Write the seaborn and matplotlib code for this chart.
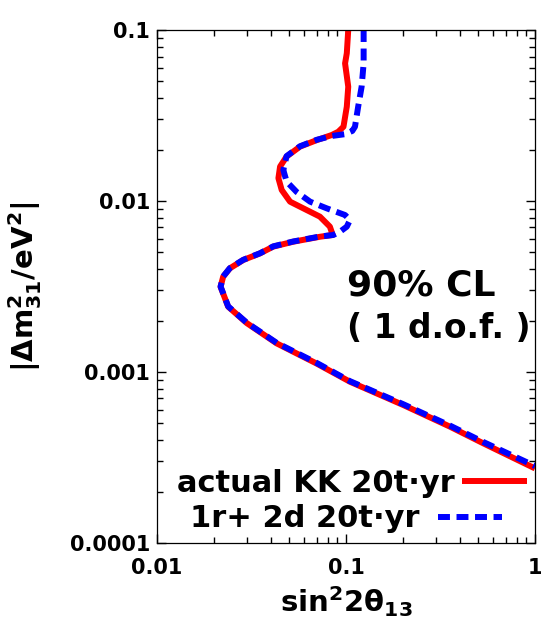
import numpy as np
import pandas as pd
import seaborn as sns
import matplotlib
matplotlib.use("Agg")
import matplotlib.pyplot as plt
from matplotlib.ticker import LogLocator, NullFormatter

# 90% CL contours (sin^2 2theta13, |dm31^2| in eV^2)
red_s = [0.1028, 0.101, 0.0989, 0.1028, 0.101, 0.097, 0.0910, 0.0839,
         0.0700, 0.0571, 0.0485, 0.0448, 0.0439, 0.0457, 0.0506, 0.0619, 0.0728,
         0.0822, 0.0851, 0.0728, 0.0526, 0.0412, 0.0351, 0.0286, 0.0243, 0.0224,
         0.0217, 0.0238, 0.0299, 0.0430, 0.0700, 0.105, 0.201, 0.355, 0.532, 1.0]
red_dm = [0.1, 0.0731, 0.0638, 0.0466, 0.0356, 0.0272, 0.0254, 0.0243,
          0.0227, 0.0208, 0.0182, 0.0159, 0.0136, 0.0116, 0.00991, 0.00886, 0.00810,
          0.00708, 0.00633, 0.00618, 0.00578, 0.00541, 0.00494, 0.00452, 0.00404, 0.00361,
          0.00315, 0.00241, 0.00193, 0.00147, 0.00112, 0.000877, 0.000641, 0.000479, 0.000383, 0.000273]

blue_s = [0.124, 0.124, 0.121, 0.116, 0.1116, 0.108, 0.0989, 0.0839, 0.0700,
          0.0571, 0.0485, 0.0466, 0.0485, 0.0548, 0.0646, 0.0791, 0.0989, 0.105,
          0.101, 0.0929, 0.0857, 0.0728, 0.0526, 0.0412, 0.0351, 0.0286, 0.0243,
          0.0224, 0.0217, 0.0238, 0.0299, 0.0430, 0.0700, 0.105, 0.201, 0.355, 0.532, 1.0]
blue_dm = [0.1, 0.0638, 0.0466, 0.0356, 0.0272, 0.0257, 0.0246, 0.0240, 0.0228,
           0.0209, 0.0183, 0.0152, 0.0130, 0.0113, 0.00991, 0.00906, 0.00828, 0.00774,
           0.00708, 0.00661, 0.00633, 0.00620, 0.00580, 0.00543, 0.00495, 0.00453, 0.00405,
           0.00362, 0.00316, 0.00242, 0.00194, 0.00148, 0.00113, 0.000884, 0.000648, 0.000486, 0.000390, 0.000282]

labels = ["actual KK 20t\u00b7yr", "1r+ 2d 20t\u00b7yr"]
xticks = [0.01, 0.1, 1]
xticklabels = ["0.01", "0.1", "1"]
yticks = [0.0001, 0.001, 0.01, 0.1]
yticklabels = ["0.0001", "0.001", "0.01", "0.1"]

sns.set_style("ticks")
plt.rcParams['font.family'] = ['DejaVu Sans']
plt.rcParams['font.weight'] = 'bold'
plt.rcParams['text.color'] = 'black'
plt.rcParams['axes.labelcolor'] = 'black'
plt.rcParams['xtick.color'] = 'black'
plt.rcParams['ytick.color'] = 'black'
plt.rcParams['mathtext.fontset'] = 'custom'
plt.rcParams['mathtext.rm'] = 'DejaVu Sans:bold'
plt.rcParams['mathtext.it'] = 'DejaVu Sans:bold'
plt.rcParams['mathtext.bf'] = 'DejaVu Sans:bold'
plt.rcParams['mathtext.default'] = 'rm'

red = pd.DataFrame({'s': red_s, 'dm': red_dm})
blue = pd.DataFrame({'s': blue_s, 'dm': blue_dm})

fig = plt.figure(figsize=(5.47, 6.19), dpi=100)
ax = fig.add_axes([0.287, 0.1228, 0.691, 0.8287])

sns.lineplot(data=red, x='s', y='dm', sort=False, estimator=None, ax=ax,
             color='#ff0000', linewidth=4.3, solid_capstyle='butt')
sns.lineplot(data=blue, x='s', y='dm', sort=False, estimator=None, ax=ax,
             color='#0000ff', linewidth=4.3, linestyle=(0, (2, 1.1)))

ax.set_xscale('log')
ax.set_yscale('log')
ax.set_xlim(0.01, 1)
ax.set_ylim(0.0001, 0.1)
ax.set_xticks(xticks)
ax.set_xticklabels(xticklabels)
ax.set_yticks(yticks)
ax.set_yticklabels(yticklabels)
for axis in (ax.xaxis, ax.yaxis):
    axis.set_minor_locator(LogLocator(base=10, subs=np.arange(2, 10), numticks=20))
    axis.set_minor_formatter(NullFormatter())
ax.tick_params(which='both', direction='in', top=True, right=True, width=1.0, color='black')
ax.tick_params(which='major', length=6.5, labelsize=15)
ax.tick_params(which='minor', length=4)
ax.tick_params(axis='x', which='major', pad=11)
ax.tick_params(axis='y', which='major', pad=5)
for sp in ax.spines.values():
    sp.set_linewidth(0.9)
    sp.set_color('black')

ax.set_xlabel(r'$\mathrm{sin}^{2}2\theta_{13}$', fontsize=21)
ax.set_ylabel(r'$|\Delta\mathrm{m}^{2}_{31}/\mathrm{eV}^{2}|$', fontsize=21)
ax.xaxis.set_label_coords(0.5, -0.080)
ax.yaxis.set_label_coords(-0.30, 0.5)

ax.text(0.503, 0.483, "90% CL", transform=ax.transAxes, fontsize=26,
        fontweight='bold', ha='left', va='baseline')
ax.text(0.503, 0.40, "( 1 d.o.f. )", transform=ax.transAxes, fontsize=23.7,
        fontweight='bold', ha='left', va='baseline')

lines = ax.get_lines()
leg1 = ax.legend([lines[0]], [labels[0]], loc='center right', bbox_to_anchor=(0.978, 0.1164),
                 frameon=False, markerfirst=False, borderpad=0, borderaxespad=0,
                 handlelength=2.1, handletextpad=0.25, prop={'size': 22, 'weight': 'bold'})
ax.add_artist(leg1)
ax.legend([lines[1]], [labels[1]], loc='center right', bbox_to_anchor=(0.912, 0.0468),
          frameon=False, markerfirst=False, borderpad=0, borderaxespad=0,
          handlelength=2.1, handletextpad=0.6, prop={'size': 22, 'weight': 'bold'})

fig.savefig('out.png', dpi=100)
